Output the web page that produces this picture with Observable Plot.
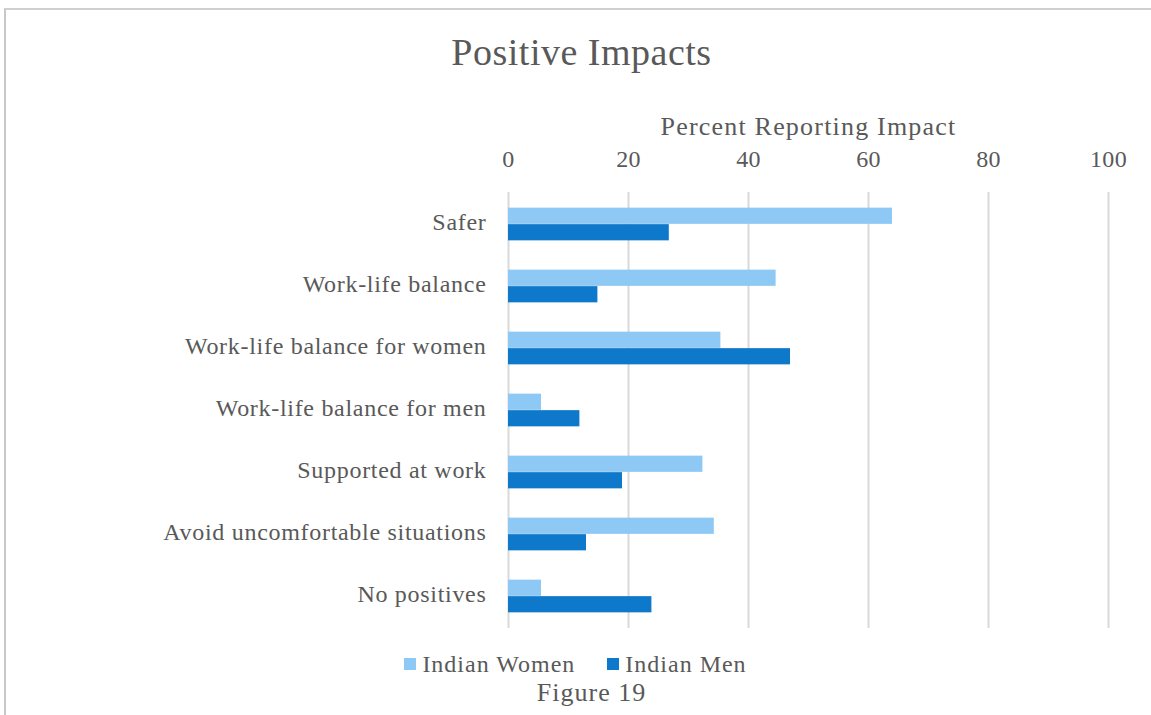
<!DOCTYPE html>
<html>
<head>
<meta charset="utf-8">
<script src="https://cdn.jsdelivr.net/npm/d3@7"></script>
<script src="https://cdn.jsdelivr.net/npm/@observablehq/plot@0.6"></script>
<style>
  html, body { margin: 0; padding: 0; background: #fff; }
  #wrap { position: relative; width: 1151px; height: 715px; overflow: hidden; font-family: "Liberation Serif", serif; color: #595959; }
  #frame { position: absolute; left: 4px; top: 8px; right: -10px; bottom: -10px; border-top: 2px solid #d0d0d0; border-left: 2px solid #c8c8c8; }
  #title { position: absolute; left: 6px; width: 1151px; top: 29px; text-align: center; font-size: 38px; line-height: 46px; letter-spacing: 0.5px; }
  #chart { position: absolute; left: 0; top: 85px; }
  #chart g[aria-label="y-axis tick label"] text { letter-spacing: 0.7px; }
  #chart g[aria-label="x-axis tick label"] text { letter-spacing: 0.3px; }
  #chart g[aria-label="x-axis label"] { font-size: 26px; }
  #chart g[aria-label="x-axis label"] text { letter-spacing: 1.2px; }
  #legend { position: absolute; left: 0; width: 1151px; top: 648px; text-align: center; font-size: 24px; line-height: 28px; letter-spacing: 1px; }
  #legend .item { display: inline-flex; align-items: center; margin: 0 16px; }
  #legend .sw { display: inline-block; width: 12px; height: 12px; margin-right: 6px; }
  #caption { position: absolute; left: 16px; width: 1151px; top: 679px; text-align: center; font-size: 26px; line-height: 28px; letter-spacing: 1px; }
</style>
</head>
<body>
<div id="wrap">
  <div id="frame"></div>
  <div id="title">Positive Impacts</div>
  <div id="chart"></div>
  <div id="legend"></div>
  <div id="caption">Figure 19</div>
</div>
<script>
const categories = ["Safer", "Work-life balance", "Work-life balance for women", "Work-life balance for men", "Supported at work", "Avoid uncomfortable situations", "No positives"];
const womenValues = [64.0, 44.6, 35.4, 5.5, 32.4, 34.3, 5.5];
const menValues = [26.8, 14.9, 47.0, 11.9, 19.0, 13.0, 23.9];
const seriesNames = ["Indian Women", "Indian Men"];
const seriesColors = ["#8ec8f4", "#0e79ca"];
const xTicks = [0, 20, 40, 60, 80, 100];

const rows = categories.map((c, i) => ({category: c, women: womenValues[i], men: menValues[i]}));

const bandH = (628 - 192) / categories.length;
const barH = 16.5;

const chart = Plot.plot({
  width: 1151,
  height: 553,
  marginLeft: 508,
  marginRight: 43,
  marginTop: 107,
  marginBottom: 10,
  style: {fontFamily: "Liberation Serif, serif", color: "#595959", background: "transparent"},
  x: {domain: [0, 100]},
  y: {domain: categories, padding: 0},
  marks: [
    Plot.gridX(xTicks, {stroke: "#d9d9d9", strokeOpacity: 1, strokeWidth: 2}),
    Plot.barX(rows, {x: "women", y: "category", fill: seriesColors[0], insetTop: bandH / 2 - barH, insetBottom: bandH / 2}),
    Plot.barX(rows, {x: "men", y: "category", fill: seriesColors[1], insetTop: bandH / 2, insetBottom: bandH / 2 - barH}),
    Plot.axisX({anchor: "top", ticks: xTicks, tickSize: 0, tickPadding: 26, fontSize: 24, fill: "#595959",
      label: "Percent Reporting Impact", labelAnchor: "center", labelArrow: "none", labelOffset: 76}),
    Plot.axisY({tickSize: 0, tickPadding: 22, fontSize: 24, fill: "#595959", label: null, dy: -2})
  ]
});
document.getElementById("chart").appendChild(chart);

const legend = document.getElementById("legend");
seriesNames.forEach((n, i) => {
  const item = document.createElement("span");
  item.className = "item";
  const sw = document.createElement("span");
  sw.className = "sw";
  sw.style.background = seriesColors[i];
  item.appendChild(sw);
  item.appendChild(document.createTextNode(n));
  legend.appendChild(item);
});
</script>
</body>
</html>
